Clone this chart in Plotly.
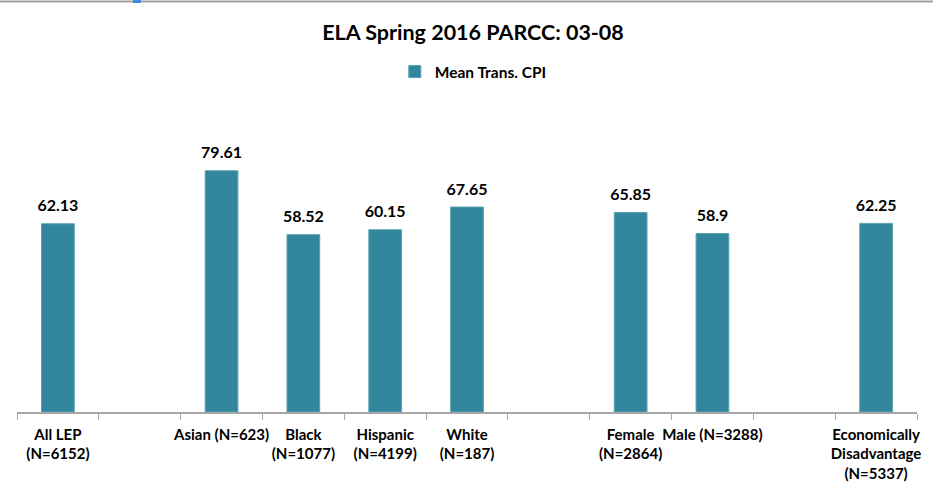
import plotly.graph_objects as go

categories = ["All LEP", " ", "Asian", "Black", "Hispanic", "White", "  ", "Female", "Male", "   ", "Economically Disadvantage"]
tick_labels = ["All LEP<br>(N=6152)", "", "Asian (N=623)", "Black<br>(N=1077)", "Hispanic<br>(N=4199)",
               "White<br>(N=187)", "", "Female<br>(N=2864)", "Male (N=3288)", "",
               "Economically<br>Disadvantage<br>(N=5337)"]
mean_trans_cpi = [62.13, None, 79.61, 58.52, 60.15, 67.65, None, 65.85, 58.9, None, 62.25]
value_text = ["62.13", "", "79.61", "58.52", "60.15", "67.65", "", "65.85", "58.9", "", "62.25"]

FONT = "Lato, 'Open Sans', sans-serif"
BAR = "#31859C"

fig = go.Figure()
fig.add_trace(go.Bar(
    x=categories, y=mean_trans_cpi, name="<b>Mean Trans. CPI</b>",
    marker=dict(color=BAR, line=dict(color="#5aa2b5", width=1)),
    width=0.4, hoverinfo="x+y",
))
fig.add_trace(go.Scatter(
    x=categories, y=mean_trans_cpi, mode="markers+text",
    marker=dict(size=12, opacity=0), text=value_text, texttemplate="<b>%{text}</b>",
    textposition="top center", cliponaxis=False, showlegend=False, hoverinfo="skip",
    textfont=dict(family=FONT, size=16, color="#000000"),
))

fig.update_layout(
    width=933, height=491,
    margin=dict(l=17, r=16, t=109, b=79, autoexpand=False),
    paper_bgcolor="white", plot_bgcolor="white",
    title=dict(text="<b>ELA Spring 2016 PARCC: 03-08</b>", x=0.507, xanchor="center",
               y=1 - 32 / 491, yanchor="middle",
               font=dict(family=FONT, size=21.5, color="#000000")),
    showlegend=True,
    legend=dict(orientation="h", x=0.507, xanchor="center", y=(412 - 72) / 303,
                yanchor="middle", font=dict(family=FONT, size=15.5, color="#000000")),
    xaxis=dict(
        type="category", tickmode="array", tickvals=categories, range=[-0.5, len(categories) - 0.5],
        ticktext=["<b>" + t.replace("<br>", "</b><br><b>") + "</b>" if t else "" for t in tick_labels],
        tickangle=0, automargin=False, ticklabelstandoff=8,
        tickson="boundaries", ticks="outside", ticklen=6, tickcolor="#A6A6A6", tickwidth=1,
        showline=True, linecolor="#A6A6A6", linewidth=1.5,
        tickfont=dict(family=FONT, size=15, color="#000000"),
        showgrid=False, zeroline=False, fixedrange=True,
    ),
    yaxis=dict(range=[0, 100], visible=False, fixedrange=True),
    font=dict(family=FONT),
    shapes=[
        dict(type="line", xref="paper", yref="paper", x0=-17 / 900, x1=1 + 16 / 900,
             y0=(412 - 1.5) / 303, y1=(412 - 1.5) / 303, line=dict(color="#A0A0A0", width=2)),
        dict(type="line", xref="paper", yref="paper", x0=(133 - 17) / 900, x1=(141 - 17) / 900,
             y0=(412 - 1.5) / 303, y1=(412 - 1.5) / 303, line=dict(color="#3C8CE0", width=3)),
    ],
)

fig.write_html("out.html", config={"displayModeBar": False},
               post_script="document.body.style.margin='0';")
